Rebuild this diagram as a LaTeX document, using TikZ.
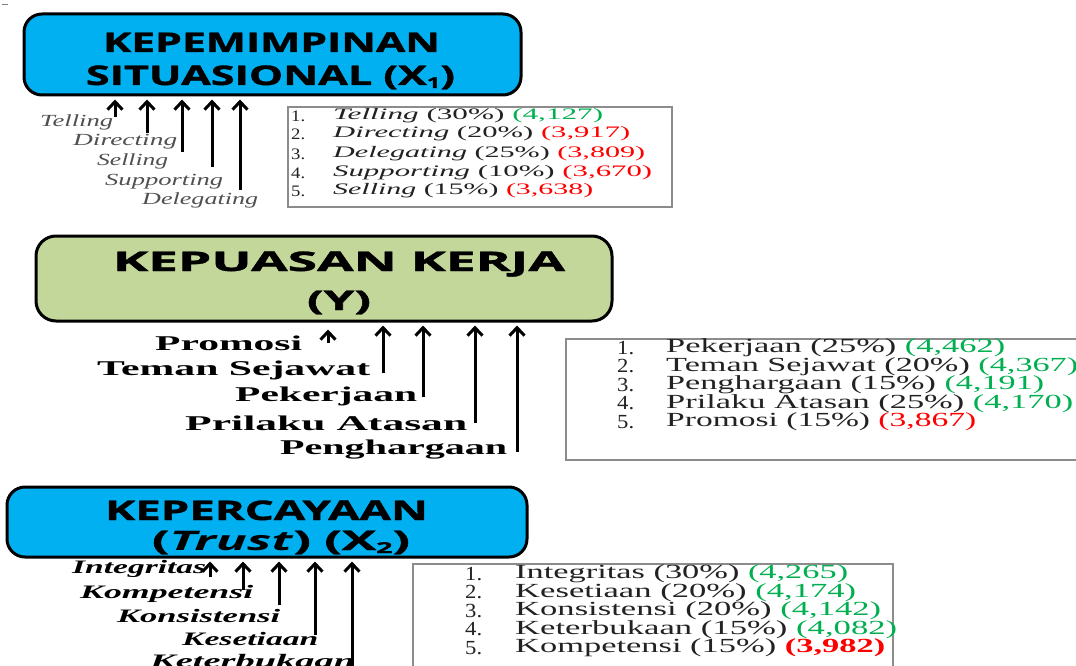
\documentclass[tikz,border=0pt]{standalone}
\usepackage{fontspec}
\usepackage{graphicx}
\usetikzlibrary{arrows.meta}
\setmainfont{Liberation Serif}
\newfontfamily\titlefont[BoldFeatures={FakeBold=1.2}]{Open Sans}
\definecolor{cyanbox}{HTML}{00B0F0}
\definecolor{greenbox}{HTML}{C4D79B}
\definecolor{valgreen}{HTML}{00B050}
\definecolor{valred}{HTML}{FF0000}
\definecolor{labgray}{HTML}{505050}
\definecolor{boxgray}{HTML}{8C8C8C}
\definecolor{textdark}{HTML}{222222}
\newcommand\xfit[2]{\resizebox{#1pt}{\height}{#2}}
\newcommand\subx[1]{\raisebox{-3pt}{\fontsize{15}{15}\selectfont #1}}
\begin{document}
\begin{tikzpicture}[x=1pt,y=-1pt,
  bigbox/.style={draw=black, line width=3pt, rounded corners=18pt, inner sep=0pt},
  titletxt/.style={inner sep=0pt, anchor=base, font=\titlefont\bfseries\fontsize{27}{30}\selectfont},
  graylab/.style={inner sep=0pt, anchor=west, text=labgray, font=\itshape\fontsize{17}{19}\selectfont},
  boldlab/.style={inner sep=0pt, anchor=west, text=black, font=\bfseries\fontsize{21}{23}\selectfont},
  bilab/.style={inner sep=0pt, anchor=west, text=black, font=\bfseries\itshape\fontsize{19}{21}\selectfont},
  listbox/.style={draw=boxgray, line width=2pt, fill=white, inner sep=0pt},
  lista/.style={inner sep=0pt, anchor=west, text=textdark, font=\fontsize{16}{18}\selectfont},
  listb/.style={inner sep=0pt, anchor=west, text=textdark, font=\fontsize{20}{22}\selectfont},
  arr/.style={line width=3pt, -{Straight Barb[length=8pt,width=15pt,line width=3pt]}, shorten >=3pt}
]
\useasboundingbox (0,0) rectangle (1076,666);
\fill[white] (0,0) rectangle (1076,666);
\draw[gray, line width=0.8pt] (2,4) -- (8,4);

% ---------- Box 1 ----------
\node[bigbox, fill=cyanbox, minimum width=497pt, minimum height=81pt] (b1) at (272.5,54.5) {};
\node[titletxt] (t1a) at (271.5,52) {\xfit{337}{KEPEMIMPINAN}};
\node[titletxt] (t1b) at (270.5,85) {\xfit{369}{SITUASIONAL (X\subx{1})}};

\coordinate (a11) at (115,117);
\coordinate (a12) at (147,133);
\coordinate (a13) at (182,152);
\coordinate (a14) at (212,167);
\coordinate (a15) at (240,190);
\foreach \c in {a11,a12,a13,a14,a15} \draw[arr] (\c) -- (\c |- b1.south);

\node[graylab] (g1) at (40,122) {\xfit{73}{Telling}};
\node[graylab] (g2) at (73,142) {\xfit{104}{Directing}};
\node[graylab] (g3) at (97,161) {\xfit{71}{Selling}};
\node[graylab] (g4) at (105,182) {\xfit{118}{Supporting}};
\node[graylab] (g5) at (142,200) {\xfit{116}{Delegating}};

\node[listbox, minimum width=384pt, minimum height=100pt] (l1) at (480,157) {};
\node[lista] (l1n1) at (291,116) {\xfit{14}{1.}};
\node[lista] (l1n2) at (291,134) {\xfit{14}{2.}};
\node[lista] (l1n3) at (291,154) {\xfit{14}{3.}};
\node[lista] (l1n4) at (291,173) {\xfit{14}{4.}};
\node[lista] (l1n5) at (291,191) {\xfit{14}{5.}};
\node[lista] (l1t1) at (333,116) {\xfit{270}{\textit{Telling} (30\%) \textcolor{valgreen}{(4,127)}}};
\node[lista] (l1t2) at (333,134) {\xfit{297}{\textit{Directing} (20\%) \textcolor{valred}{(3,917)}}};
\node[lista] (l1t3) at (333,154) {\xfit{312}{\textit{Delegating} (25\%) \textcolor{valred}{(3,809)}}};
\node[lista] (l1t4) at (333,173) {\xfit{319}{\textit{Supporting} (10\%) \textcolor{valred}{(3,670)}}};
\node[lista] (l1t5) at (333,191) {\xfit{260}{\textit{Selling} (15\%) \textcolor{valred}{(3,638)}}};

% ---------- Box 2 ----------
\node[bigbox, fill=greenbox, minimum width=576pt, minimum height=85pt, rounded corners=20pt] (b2) at (324,278.5) {};
\node[titletxt] (t2a) at (339,271) {\xfit{452}{KEPUASAN KERJA}};
\node[titletxt] (t2b) at (339,310) {\xfit{64}{(Y)}};

\coordinate (a21) at (328,343);
\coordinate (a22) at (383,373);
\coordinate (a23) at (423,397);
\coordinate (a24) at (475,423);
\coordinate (a25) at (517,452);
\draw[arr, shorten >=7pt] (a21) -- (a21 |- b2.south);
\foreach \c in {a22,a23,a24,a25} \draw[arr] (\c) -- (\c |- b2.south);

\node[boldlab] (p1) at (155,343) {\xfit{147}{Promosi}};
\node[boldlab] (p2) at (97,370) {\xfit{273}{Teman Sejawat}};
\node[boldlab] (p3) at (235,396) {\xfit{182}{Pekerjaan}};
\node[boldlab] (p4) at (185,423) {\xfit{282}{Prilaku Atasan}};
\node[boldlab] (p5) at (280,450) {\xfit{227}{Penghargaan}};

\node[listbox, minimum width=524pt, minimum height=121pt] (l2) at (828,399.5) {};
\node[listb] (l2n1) at (617,348) {\xfit{17}{1.}};
\node[listb] (l2n2) at (617,366.5) {\xfit{17}{2.}};
\node[listb] (l2n3) at (617,385) {\xfit{17}{3.}};
\node[listb] (l2n4) at (617,403.5) {\xfit{17}{4.}};
\node[listb] (l2n5) at (617,422) {\xfit{17}{5.}};
\node[listb] (l2t1) at (666,348) {\xfit{339}{Pekerjaan (25\%) \textcolor{valgreen}{(4,462)}}};
\node[listb] (l2t2) at (666,366.5) {\xfit{412}{Teman Sejawat (20\%) \textcolor{valgreen}{(4,367)}}};
\node[listb] (l2t3) at (666,385) {\xfit{378}{Penghargaan (15\%) \textcolor{valgreen}{(4,191)}}};
\node[listb] (l2t4) at (666,403.5) {\xfit{407}{Prilaku Atasan (25\%) \textcolor{valgreen}{(4,170)}}};
\node[listb] (l2t5) at (666,422) {\xfit{310}{Promosi (15\%) \textcolor{valred}{(3,867)}}};

% ---------- Box 3 ----------
\node[bigbox, fill=cyanbox, minimum width=520pt, minimum height=70pt] (b3) at (267,522) {};
\node[titletxt] (t3a) at (266.5,520) {\xfit{323}{KEPERCAYAAN}};
\node[titletxt] (t3b) at (281,550) {\xfit{258}{(\textit{Trust}) (X\subx{2})}};

\coordinate (a31) at (210,577);
\coordinate (a32) at (243,590);
\coordinate (a33) at (279,605);
\coordinate (a34) at (315,635);
\coordinate (a35) at (352,690);
\foreach \c in {a31,a32,a33,a34,a35} \draw[arr] (\c) -- (\c |- b3.south);

\node[bilab] (k1) at (72,569) {\xfit{134}{Integritas}};
\node[bilab] (k2) at (80,594) {\xfit{173}{Kompetensi}};
\node[bilab] (k3) at (117,616) {\xfit{163}{Konsistensi}};
\node[bilab] (k4) at (182,639) {\xfit{136}{Kesetiaan}};
\node[bilab] (k5) at (150,661) {\xfit{205}{Keterbukaan}};

\node[listbox, minimum width=480pt, minimum height=136pt] (l3) at (653,632) {};
\node[listb] (l3n1) at (465,574) {\xfit{17}{1.}};
\node[listb] (l3n2) at (465,592.5) {\xfit{17}{2.}};
\node[listb] (l3n3) at (465,611) {\xfit{17}{3.}};
\node[listb] (l3n4) at (465,629.5) {\xfit{17}{4.}};
\node[listb] (l3n5) at (465,648) {\xfit{17}{5.}};
\node[listb] (l3t1) at (515,574) {\xfit{333}{Integritas (30\%) \textcolor{valgreen}{(4,265)}}};
\node[listb] (l3t2) at (515,592.5) {\xfit{341}{Kesetiaan (20\%) \textcolor{valgreen}{(4,174)}}};
\node[listb] (l3t3) at (515,611) {\xfit{366}{Konsistensi (20\%) \textcolor{valgreen}{(4,142)}}};
\node[listb] (l3t4) at (515,629.5) {\xfit{382}{Keterbukaan (15\%) \textcolor{valgreen}{(4,082)}}};
\node[listb] (l3t5) at (515,648) {\xfit{370}{Kompetensi (15\%) \textcolor{valred}{\textbf{(3,982)}}}};
\end{tikzpicture}
\end{document}
